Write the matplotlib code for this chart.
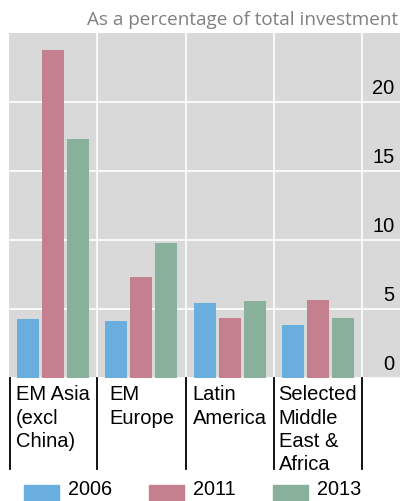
import matplotlib
matplotlib.use("Agg")
import matplotlib.pyplot as plt
import matplotlib.transforms as mtransforms
from matplotlib.patches import Rectangle
import numpy as np

categories = ["EM Asia\n(excl\nChina)", "EM\nEurope", "Latin\nAmerica", "Selected\nMiddle\nEast &\nAfrica"]
years = ["2006", "2011", "2013"]
values_2006 = [4.3, 4.1, 5.4, 3.85]
values_2011 = [23.8, 7.3, 4.35, 5.65]
values_2013 = [17.3, 9.8, 5.6, 4.35]
yticks = [0, 5, 10, 15, 20]
title = "As a percentage of total investment"

colors = ["#6aaee0", "#c4808f", "#88b09a"]
series = [values_2006, values_2011, values_2013]

W, H = 404, 501
fig = plt.figure(figsize=(W / 100, H / 100), dpi=100)
fig.patch.set_facecolor("white")
ax = fig.add_axes([9 / W, (H - 378) / H, 391 / W, 345 / H])
ax.set_facecolor("#d9d9d9")
ax.set_xlim(-0.5, 3.93)
ax.set_ylim(0, 25)

x = np.arange(len(categories))
offs = [-0.283, 0, 0.283]
for s, c, o in zip(series, colors, offs):
    ax.bar(x + o, s, width=0.25, color=c, zorder=3)

for t in yticks:
    ax.axhline(t, color="white", lw=1.2, zorder=2)
    ax.text(3.87, t + 0.3, str(t), ha="right", va="bottom",
            fontsize=14.5, family="Liberation Sans", color="black", zorder=4)
for b in [0.5, 1.5, 2.5, 3.5]:
    ax.axvline(b, color="white", lw=1.2, zorder=2)

for sp in ax.spines.values():
    sp.set_visible(False)
ax.set_xticks([])
ax.set_yticks([])

# separator lines below axis
trans = mtransforms.blended_transform_factory(ax.transData, fig.transFigure)
for b in [-0.5, 0.5, 1.5, 2.5, 3.5]:
    xx = b if b > -0.5 else -0.49
    ax.plot([xx, xx], [(H - 378) / H, (H - 469) / H], color="black", lw=1.3,
            transform=trans, clip_on=False, zorder=5)

for i, lab in enumerate(categories):
    ax.text(i, (H - 385) / H, lab, transform=trans, ha="center", va="top",
            multialignment="left", fontsize=14.5, family="Liberation Sans",
            linespacing=1.3)

fig.text(398 / W, 1 - 20 / H, title, ha="right", va="center", fontsize=13.6,
         family="Open Sans", color="#808080")

# legend
leg_x = [24, 149, 273]
for lx, c, y in zip(leg_x, colors, years):
    fig.patches.append(Rectangle((lx / W, 0), 35 / W, (H - 485) / H,
                                 transform=fig.transFigure, color=c))
    fig.text((lx + 44) / W, 2 / H, y, ha="left", va="bottom",
             fontsize=14.3, family="Liberation Sans")

fig.savefig("out.png", dpi=100)
